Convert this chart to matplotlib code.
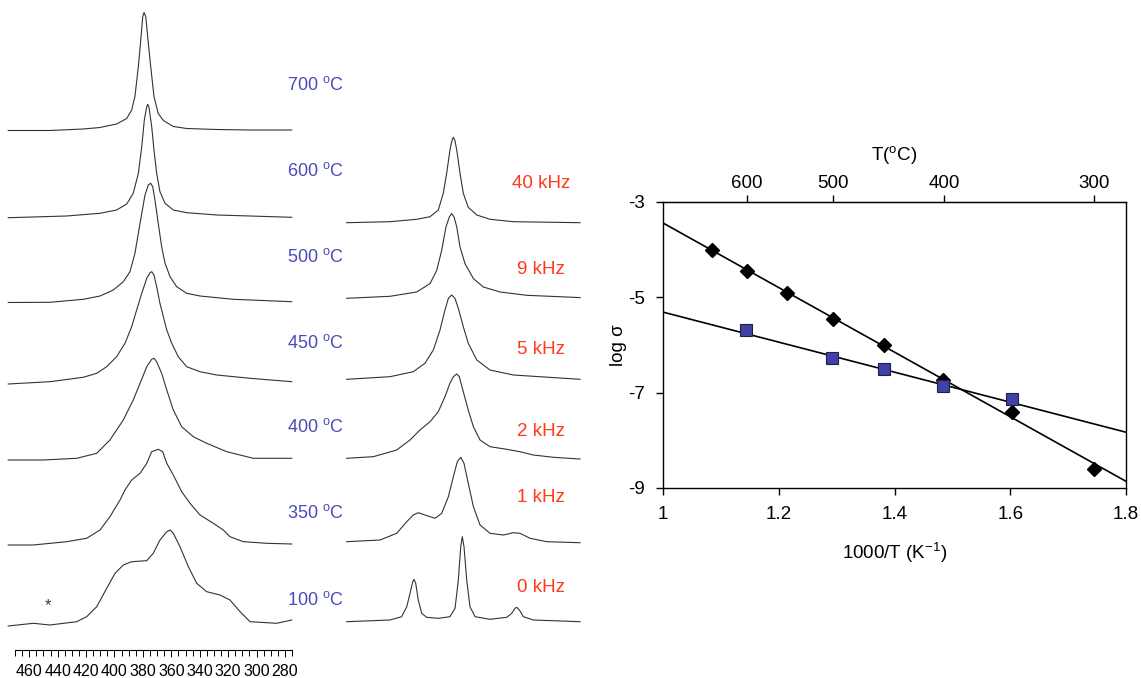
import numpy as np
import matplotlib
matplotlib.use("Agg")
import matplotlib.pyplot as plt

plt.rcParams["font.family"] = ["Liberation Sans", "DejaVu Sans"]
plt.rcParams["mathtext.fontset"] = "custom"
plt.rcParams["mathtext.rm"] = "Liberation Sans"
plt.rcParams["axes.unicode_minus"] = False

BLUE_TXT = "#4a4ab8"
RED_TXT = "#ff3a1a"
LINE = "#333333"

# ---- left: variable temperature spectra (ppm, intensity above baseline) ----
temp_labels = ["700 $^{\\rm o}$C", "600 $^{\\rm o}$C", "500 $^{\\rm o}$C", "450 $^{\\rm o}$C",
               "400 $^{\\rm o}$C", "350 $^{\\rm o}$C", "100 $^{\\rm o}$C"]
temp_offsets = [519.5, 432.3, 347.5, 266, 190, 105, 24]
temp_label_y = [565, 479, 393, 307, 223, 137, 50]

ppm_700 = [474.8, 445.4, 422.0, 410.2, 398.5, 391.4, 387.9, 385.6, 383.2, 381.5, 380.1, 379.2,
           378.0, 376.4, 374.5, 372.2, 369.2, 365.6, 358.6, 349.2, 328.0, 304.6, 275.2]
int_700 = [0, 0, 1.5, 3, 6.5, 12, 20.5, 34, 64, 90.5, 114, 118,
           114, 90.5, 64, 34, 17, 10, 4, 2, 1, 0.5, 0.5]

ppm_600 = [474.8, 433.7, 410.2, 398.5, 391.4, 386.8, 383.2, 380.8, 379.0, 377.3, 376.6,
           375.7, 373.8, 372.2, 370.3, 368.0, 364.4, 358.6, 349.2, 328.0, 304.6, 275.2]
int_600 = [0, 1.7, 4.4, 7.7, 13.7, 24.4, 44.4, 71, 97.7, 111, 113.4,
           110.4, 91, 67.7, 44.4, 26, 14.4, 7.7, 5, 2.7, 1.7, 0.4]

ppm_500 = [474.8, 445.4, 422.0, 410.2, 400.8, 393.8, 389.1, 385.6, 383.2, 380.8, 378.5, 376.2,
           374.5, 373.1, 371.5, 369.2, 366.8, 364.4, 360.9, 356.2, 349.2, 339.8, 316.3, 275.2]
int_500 = [0, 0.2, 3.2, 6.5, 12.5, 20.8, 30.8, 49.2, 69.2, 89.2, 107.5, 117.5,
           119.2, 115.8, 102.5, 79.2, 55.8, 39.2, 25.8, 15.8, 9.2, 6.5, 3.2, 0.8]

ppm_450 = [474.8, 445.4, 422.0, 412.5, 405.5, 398.5, 392.6, 387.9, 384.4, 380.8, 377.3, 375.0,
           373.8, 372.2, 370.3, 368.0, 365.6, 363.2, 359.7, 355.1, 349.2, 339.8, 328.0, 304.6, 275.2]
int_450 = [0, 2.3, 6.7, 10.7, 17.3, 27.3, 40.7, 57.3, 74, 90.7, 105.7, 111.3,
           112.3, 109, 97.3, 80.7, 67.3, 54, 40.7, 27.3, 17.3, 12.3, 9, 5.7, 2.3]

ppm_400 = [474.8, 450.1, 426.6, 412.5, 403.2, 393.8, 386.8, 382.0, 377.3, 373.8, 372.2,
           370.3, 366.8, 363.2, 358.6, 352.7, 344.5, 335.1, 321.0, 311.6, 302.3, 275.2]
int_400 = [0, 0, 1.7, 6.7, 20, 40, 60, 76.7, 93.3, 100.7, 101.7,
           98.3, 86.7, 70, 50, 33.3, 23.3, 16.7, 8.3, 5, 1.7, 1.7]

ppm_350 = [474.8, 457.2, 433.7, 419.6, 410.2, 403.2, 396.1, 392.6, 387.9, 382.0, 377.3, 373.8, 369.2,
           366.1, 363.2, 358.6, 352.7, 346.8, 339.8, 330.4, 323.4, 318.7, 309.3, 292.8, 275.2]
int_350 = [0, 0, 3.3, 6.7, 15, 28.3, 45, 55, 65, 71.7, 81.7, 93.3, 95.7,
           93.3, 81.7, 70, 53.3, 41.7, 30, 21.7, 15, 8.3, 3.3, 1.7, 1]

ppm_100 = [474.8, 457.2, 445.4, 426.6, 419.6, 412.5, 405.5, 399.6, 393.8, 387.9, 377.3, 372.7, 368.0,
           363.2, 360.9, 358.6, 353.9, 348.0, 342.1, 335.1, 325.7, 318.7, 311.6, 304.6, 292.8, 285.8, 275.2]
int_100 = [0, 2.7, 1, 4.3, 9.3, 19.3, 37.7, 52.7, 61, 64.3, 65.3, 72.7, 86,
           94.3, 96, 92.7, 79.3, 59.3, 42.7, 34.3, 31, 26, 14.3, 4.3, 3.3, 2.7, 6]

temp_spectra = [(ppm_700, int_700), (ppm_600, int_600), (ppm_500, int_500), (ppm_450, int_450),
                (ppm_400, int_400), (ppm_350, int_350), (ppm_100, int_100)]

star_ppm = 447
star_y = 44

# ---- middle: simulated spectra vs exchange rate ----
rate_labels = ["40 kHz", "9 kHz", "5 kHz", "2 kHz", "1 kHz", "0 kHz"]
rate_offsets = [427.3, 351.7, 270.7, 191, 107.3, 28.3]
rate_label_y = [466, 381, 300, 218, 152, 63]

ppm_40k = [461.2, 430.7, 411.9, 402.5, 396.7, 393.2, 390.8, 388.5, 387.0, 386.1,
           385.1, 383.7, 381.4, 379.1, 375.6, 369.6, 360.3, 343.9, 296.9]
int_40k = [0, 1, 3.4, 6, 12.7, 29.4, 49.4, 72.7, 82.7, 85.4,
           82.7, 72.7, 49.4, 29.4, 15.4, 7.7, 3.4, 1, 0]

ppm_9k = [461.2, 430.7, 411.9, 402.5, 397.8, 394.3, 391.3, 388.9, 387.3,
          385.6, 383.7, 381.4, 377.9, 372.0, 365.0, 353.2, 334.4, 296.9]
int_9k = [0, 2, 6.3, 14.7, 28, 48, 71.3, 81.3, 84.7,
          81.3, 71.3, 51.3, 34.7, 19.7, 11.3, 6.3, 3, 0.7]

ppm_5k = [461.2, 430.7, 414.3, 406.1, 400.2, 395.5, 392.0, 389.6, 387.3,
          385.0, 382.6, 379.1, 375.6, 369.6, 360.3, 343.9, 296.9]
int_5k = [0, 2.6, 7.6, 16, 29.3, 49.3, 69.3, 81, 84.3,
          81, 71, 52.6, 36, 19.3, 9.3, 4.3, 0]

ppm_2k = [461.2, 442.5, 426.0, 416.6, 409.6, 402.5, 396.7, 392.0, 388.5, 386.1, 383.7,
          381.9, 379.1, 375.6, 372.0, 367.3, 360.3, 348.5, 339.2, 329.8, 315.7, 296.9]
int_2k = [0.7, 2.3, 9, 19, 29, 37.3, 47.3, 62.3, 75.7, 82.3, 85,
          82.3, 67.3, 49, 32.3, 19, 12.3, 9.7, 7.3, 4, 1.7, 0]

ppm_1k = [461.2, 437.7, 426.0, 418.9, 414.3, 410.8, 406.1, 399.0, 394.3, 389.6, 386.1, 383.3,
          380.9, 378.6, 375.6, 372.0, 367.3, 360.3, 350.9, 343.9, 339.2, 332.1, 320.4, 296.9]
int_1k = [1, 2.7, 9.4, 21, 27.7, 30, 27.7, 24.4, 29.4, 46, 66, 81,
          85.4, 79.4, 59.4, 36, 17.7, 9.4, 7.7, 10, 9.4, 4.4, 1, 0]

ppm_0k = [461.2, 430.7, 422.5, 418.9, 416.6, 414.7, 413.8, 412.6, 410.8, 408.4, 404.9, 396.7,
          388.5, 384.9, 382.6, 380.9, 379.8, 378.6, 376.7, 374.4, 370.8, 360.3, 348.5, 345.0,
          342.7, 341.5, 339.6, 336.8, 329.8, 296.9]
int_0k = [0, 1.7, 5, 15, 28.4, 40, 42.4, 38.4, 21.7, 8.4, 4.4, 3.4,
          5, 13.4, 41.7, 75, 85, 75, 41.7, 15, 5, 2.4, 4.4, 8.4,
          13.4, 14.4, 11.7, 5, 1.7, 0]

rate_spectra = [(ppm_40k, int_40k), (ppm_9k, int_9k), (ppm_5k, int_5k),
                (ppm_2k, int_2k), (ppm_1k, int_1k), (ppm_0k, int_0k)]

# ---- right: Arrhenius plot ----
inv_t_diamond = [1.084, 1.145, 1.2145, 1.294, 1.381, 1.484, 1.603, 1.744]
log_sigma_diamond = [-4.01, -4.44, -4.91, -5.45, -6.01, -6.73, -7.41, -8.60]
inv_t_square = [1.143, 1.292, 1.381, 1.484, 1.603]
log_sigma_square = [-5.69, -6.27, -6.51, -6.86, -7.14]
fit_x = [1.0, 1.8]
fit_diamond = [-3.44, -8.86]
fit_square = [-5.31, -7.83]
top_temps = [600, 500, 400, 300]

W, H = 1141, 678
fig = plt.figure(figsize=(W / 100, H / 100), dpi=100)

# left axes
ax1 = fig.add_axes([0, 28 / H, 300 / W, 650 / H])
for (ppm, inten), off in zip(temp_spectra, temp_offsets):
    ax1.plot(ppm, np.array(inten) + off, color=LINE, lw=0.8)
for lab, ly in zip(temp_labels, temp_label_y):
    ax1.text(278.5, ly, lab, color=BLUE_TXT, fontsize=13, ha="left", va="center")
ax1.text(star_ppm, star_y, "*", color=LINE, fontsize=12, ha="center", va="center")
ax1.set_xlim(480.6, 269.4)
ax1.set_ylim(0, 650)
for s in ["top", "left", "right"]:
    ax1.spines[s].set_visible(False)
ax1.spines["bottom"].set_bounds(470, 275)
ax1.spines["bottom"].set_linewidth(0.8)
ax1.set_yticks([])
ax1.set_xticks(np.arange(460, 279, -20))
ax1.set_xticks(np.arange(470, 274, -5), minor=True)
ax1.tick_params(axis="x", which="major", direction="out", length=5, width=0.7,
                labelsize=11.5, pad=5)
ax1.tick_params(axis="x", which="minor", direction="out", length=4, width=0.7)
ax1.patch.set_alpha(0)

# middle axes
ax2 = fig.add_axes([340 / W, 28 / H, 250 / W, 650 / H])
for (ppm, inten), off in zip(rate_spectra, rate_offsets):
    ax2.plot(ppm, np.array(inten) + off, color=LINE, lw=0.8)
for lab, ly in zip(rate_labels, rate_label_y):
    ax2.text(324.4, ly, lab, color=RED_TXT, fontsize=13.5, ha="center", va="center")
ax2.set_xlim(465.9, 289.9)
ax2.set_ylim(0, 650)
ax2.axis("off")

# right axes
ax3 = fig.add_axes([663 / W, (H - 488) / H, 463 / W, 286 / H])
ax3.plot(fit_x, fit_diamond, color="black", lw=1.2)
ax3.plot(fit_x, fit_square, color="black", lw=1.2)
ax3.plot(inv_t_diamond, log_sigma_diamond, "D", color="black", ms=7.5, mec="black")
ax3.plot(inv_t_square, log_sigma_square, "s", color="#4040a8", ms=9, mec="#202040", mew=0.8)
ax3.set_xlim(1, 1.8)
ax3.set_ylim(-9, -3)
ax3.set_xticks([1, 1.2, 1.4, 1.6, 1.8])
ax3.set_xticklabels(["1", "1.2", "1.4", "1.6", "1.8"])
ax3.set_yticks([-3, -5, -7, -9])
ax3.tick_params(direction="out", length=5, width=1, labelsize=13.5, pad=8)
for s in ax3.spines.values():
    s.set_linewidth(1.0)
ax3.set_xlabel("1000/T (K$^{-1}$)", fontsize=13.5, labelpad=12)
ax3.set_ylabel("log σ", fontsize=13.5, labelpad=1)

top = ax3.secondary_xaxis("top", functions=(lambda x: 1000 / np.asarray(x, dtype=float) - 273,
                                             lambda t: 1000 / (np.asarray(t, dtype=float) + 273)))
top.set_xticks(top_temps)
top.tick_params(direction="out", length=5, width=1, labelsize=13.5, pad=2)
top.set_xlabel("T($^{\\rm o}$C)", fontsize=13.5, labelpad=10)

fig.savefig("out.png", dpi=100)
